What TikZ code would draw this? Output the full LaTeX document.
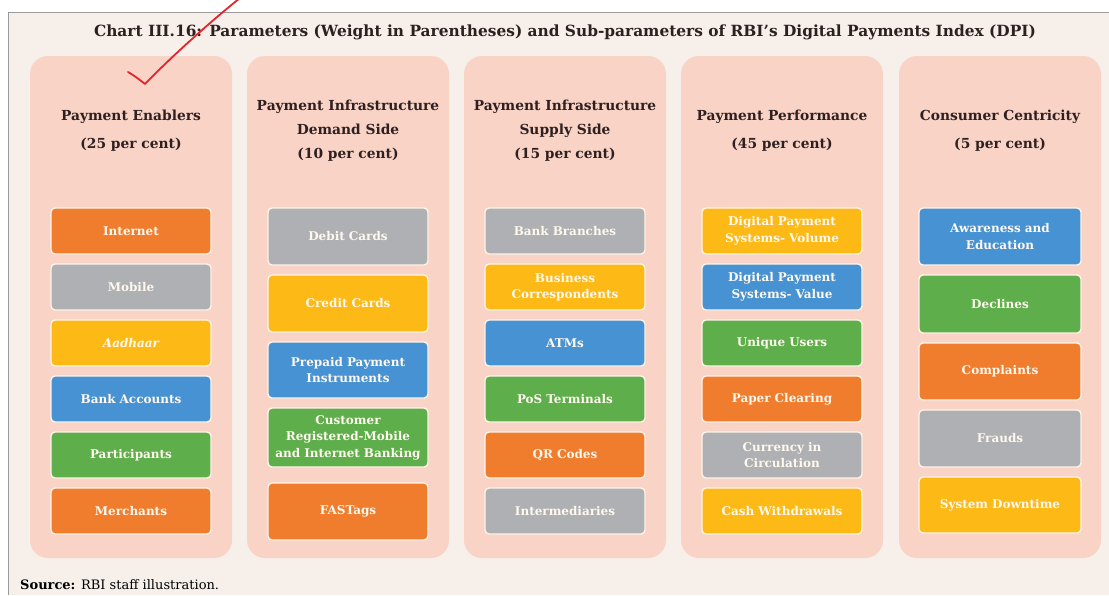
\documentclass[tikz,border=0pt]{standalone}
\usepackage{fontspec}
\setmainfont{DejaVu Serif}
\begin{document}
\definecolor{pagebg}{HTML}{F6EFEA}
\definecolor{framegray}{HTML}{9A9A9A}
\definecolor{colfill}{HTML}{F8D3C6}
\definecolor{headtext}{HTML}{2E2020}
\definecolor{cOrange}{HTML}{F07D2E}
\definecolor{cGray}{HTML}{AEB0B3}
\definecolor{cYellow}{HTML}{FDBA17}
\definecolor{cBlue}{HTML}{4792D2}
\definecolor{cGreen}{HTML}{5EAE4B}
\definecolor{boxline}{HTML}{FFF4E8}
\definecolor{boxtext}{HTML}{FFF8EE}
\definecolor{inkred}{HTML}{E3252B}
\begin{tikzpicture}[x=1pt,y=-1pt,
  column/.style={fill=colfill,rounded corners=18pt,draw=none},
  header/.style={font=\bfseries\fontsize{13.8}{24}\selectfont,text=headtext,align=center,inner sep=0pt},
  header2/.style={header,font=\bfseries\fontsize{13.8}{28}\selectfont},
  sub/.style={draw=boxline,line width=1.4pt,rounded corners=4pt,text=boxtext,
    font=\bfseries\fontsize{12}{16.5}\selectfont,align=center,text width=154pt,
    minimum width=160pt,inner sep=0pt},
  orange/.style={sub,fill=cOrange},
  grey/.style={sub,fill=cGray},
  yellow/.style={sub,fill=cYellow},
  blue/.style={sub,fill=cBlue},
  green/.style={sub,fill=cGreen}]
\useasboundingbox (0,0) rectangle (1109,595);
% page and frame
\fill[white] (0,0) rectangle (1109,595);
\fill[pagebg] (8,12) rectangle (1109,595);
\draw[framegray,line width=1pt] (1109,12) -- (8,12) -- (8,595);
% title
\node[font=\bfseries\fontsize{15.4}{17}\selectfont,text=headtext,inner sep=0pt] (title) at (565,32)
  {Chart III.16: Parameters (Weight in Parentheses) and Sub-parameters of RBI's Digital Payments Index (DPI)};
% columns
\foreach \cx in {131,348,565,782,1000}
  \path[column] (\cx-101,56) rectangle (\cx+101,558);
% headers
\node[header2] (h1) at (131,131) {Payment Enablers\\(25 per cent)};
\node[header] (h2) at (348,131) {Payment Infrastructure\\Demand Side\\(10 per cent)};
\node[header] (h3) at (565,131) {Payment Infrastructure\\Supply Side\\(15 per cent)};
\node[header2] (h4) at (782,131) {Payment Performance\\(45 per cent)};
\node[header2] (h5) at (1000,131) {Consumer Centricity\\(5 per cent)};
% column 1
\node[orange,minimum height=46pt] (e1) at (131,231) {Internet};
\node[grey,minimum height=46pt] (e2) at (131,287) {Mobile};
\node[yellow,minimum height=46pt] (e3) at (131,343) {\itshape Aadhaar};
\node[blue,minimum height=46pt] (e4) at (131,399) {Bank Accounts};
\node[green,minimum height=46pt] (e5) at (131,455) {Participants};
\node[orange,minimum height=46pt] (e6) at (131,511) {Merchants};
% column 2
\node[grey,minimum height=57pt] (d1) at (348,236.5) {Debit Cards};
\node[yellow,minimum height=57pt] (d2) at (348,303.5) {Credit Cards};
\node[blue,minimum height=56pt] (d3) at (348,370) {Prepaid Payment\\Instruments};
\node[green,minimum height=59pt] (d4) at (348,437.5) {Customer\\Registered-Mobile\\and Internet Banking};
\node[orange,minimum height=57pt] (d5) at (348,511.5) {FASTags};
% column 3
\node[grey,minimum height=46pt] (s1) at (565,231) {Bank Branches};
\node[yellow,minimum height=46pt] (s2) at (565,287) {Business\\Correspondents};
\node[blue,minimum height=46pt] (s3) at (565,343) {ATMs};
\node[green,minimum height=46pt] (s4) at (565,399) {PoS Terminals};
\node[orange,minimum height=46pt] (s5) at (565,455) {QR Codes};
\node[grey,minimum height=46pt] (s6) at (565,511) {Intermediaries};
% column 4
\node[yellow,minimum height=46pt] (p1) at (782,231) {Digital Payment\\Systems- Volume};
\node[blue,minimum height=46pt] (p2) at (782,287) {Digital Payment\\Systems- Value};
\node[green,minimum height=46pt] (p3) at (782,343) {Unique Users};
\node[orange,minimum height=46pt] (p4) at (782,399) {Paper Clearing};
\node[grey,minimum height=46pt] (p5) at (782,455) {Currency in\\Circulation};
\node[yellow,minimum height=46pt] (p6) at (782,511) {Cash Withdrawals};
% column 5
\node[blue,minimum height=57pt,minimum width=162pt] (u1) at (1000,236.5) {Awareness and\\Education};
\node[green,minimum height=58pt,minimum width=162pt] (u2) at (1000,304) {Declines};
\node[orange,minimum height=57pt,minimum width=162pt] (u3) at (1000,371.5) {Complaints};
\node[grey,minimum height=57pt,minimum width=162pt] (u4) at (1000,438.5) {Frauds};
\node[yellow,minimum height=56pt,minimum width=162pt] (u5) at (1000,505) {System Downtime};
% source line
\node[anchor=west,font=\fontsize{13}{15}\selectfont,text=black,inner sep=0pt] (src) at (20,585)
  {\textbf{Source:} RBI staff illustration.};
% hand-drawn tick mark
\draw[inkred,line width=1.8pt,line cap=round,line join=round]
  (128,72) .. controls (135,76) and (140,80) .. (145,84)
  .. controls (170,58) and (210,22) .. (240,-2);
\end{tikzpicture}
\end{document}
